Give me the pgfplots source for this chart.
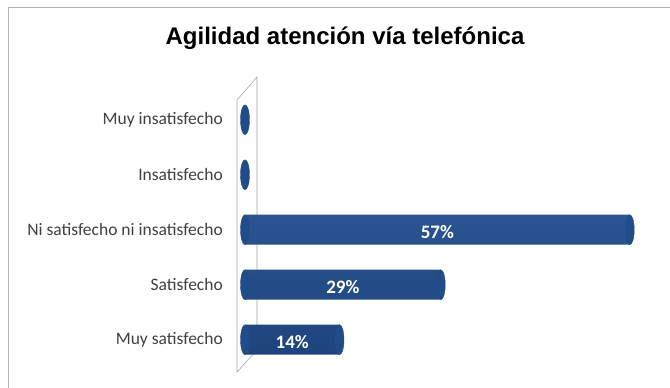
\documentclass[border=0pt]{standalone}
\usepackage{pgfplots}
\pgfplotsset{compat=1.18}
\usepackage{pgfplotstable}
\usepackage{fontspec}
\setmainfont{Carlito}
\newfontfamily\titlefont{Liberation Sans}
\definecolor{barlight}{RGB}{84,134,198}
\definecolor{barmid}{RGB}{50,98,162}
\definecolor{bardark}{RGB}{30,68,124}
\definecolor{capcol}{RGB}{32,76,138}
\definecolor{labcol}{RGB}{64,64,64}

% categories bottom to top: 0 Muy satisfecho ... 4 Muy insatisfecho
\pgfplotstableread{
y v
0 14
1 29
2 57
3 0
4 0
}\datatable

\begin{document}
\begin{tikzpicture}
\path[use as bounding box] (0pt,0pt) rectangle (670pt,388pt);
\fill[white] (0pt,0pt) rectangle (670pt,388pt);
\draw[gray!60, line width=1pt] (8pt,-5pt) rectangle (680pt,380pt);
\node[font=\titlefont\bfseries\fontsize{24}{28}\selectfont] at (345pt,350pt) {Agilidad atención vía telefónica};
% back wall
\draw[gray!70, fill=white, line width=0.6pt] (237pt,288pt) -- (257pt,311pt) -- (257pt,38pt) -- (237pt,16pt) -- cycle;
\begin{axis}[
  at={(245pt,7pt)}, anchor=south west,
  scale only axis,
  width=405pt, height=302.5pt,
  xmin=0, xmax=60,
  ymin=-0.75, ymax=4.75,
  axis line style={draw=none},
  xtick=\empty,
  ytick={0,1,2,3,4},
  yticklabels={Muy satisfecho, Satisfecho, Ni satisfecho ni insatisfecho, Insatisfecho, Muy insatisfecho},
  major tick length=0pt,
  yticklabel style={font=\fontsize{17.5}{20}\selectfont, text=labcol, inner sep=0pt, xshift=-22pt},
  clip=false,
]
\addplot[xbar, bar width=30pt, draw=none, bar shift=0pt,
  top color=barmid, middle color=barlight, bottom color=bardark]
  table[x=v, y=y] {\datatable};
% rounded ends of the cylinders
\addplot[capcol, only marks, mark=*, mark size=15pt, mark options={xscale=0.3, fill=capcol, draw=capcol}]
  table[x expr=0, y=y] {\datatable};
\addplot[capcol, only marks, mark=*, mark size=15pt, mark options={xscale=0.3, fill=capcol, draw=capcol}]
  table[x=v, y=y, restrict x to domain=0.5:100] {\datatable};
% value labels
\addplot[only marks, mark=none, restrict x to domain=0.5:100,
  point meta=explicit symbolic,
  nodes near coords={\pgfplotspointmeta\%},
  nodes near coords align=center,
  every node near coord/.append style={font=\bfseries\fontsize{19}{22}\selectfont, text=white, yshift=-2pt}]
  table[x expr=\thisrow{v}/2, y=y, meta=v] {\datatable};
\end{axis}
\end{tikzpicture}
\end{document}
